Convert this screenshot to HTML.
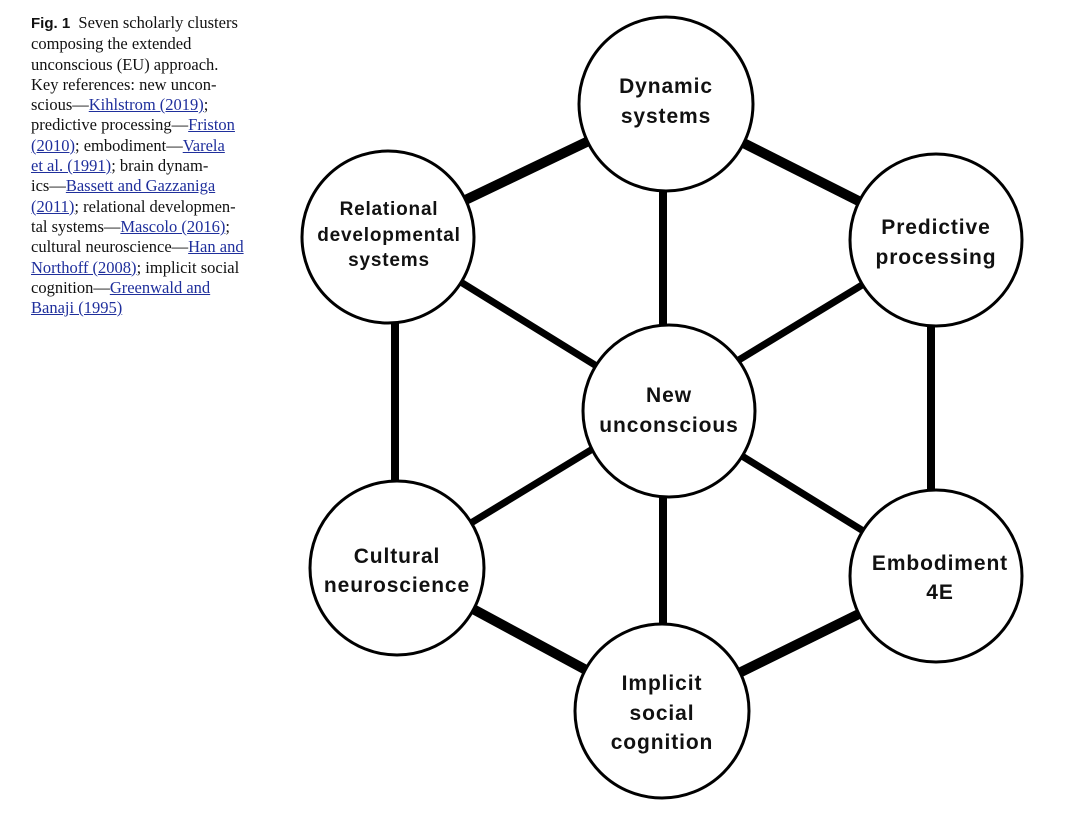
<!DOCTYPE html>
<html><head><meta charset="utf-8"><style>
html,body{margin:0;padding:0;background:#fff;}
body{width:1080px;height:838px;position:relative;overflow:hidden;}
.cap{position:absolute;left:31px;top:13px;width:240px;font-family:"Liberation Serif",serif;font-size:16.5px;line-height:20.3px;color:#111;white-space:nowrap;}
.cap b{font-family:"Liberation Sans",sans-serif;font-weight:bold;font-size:15px;}
.cap a{color:#1f2f9c;text-decoration:underline;}
svg{position:absolute;left:0;top:0;}
text{font-family:"Liberation Sans",sans-serif;font-weight:bold;fill:#111;text-anchor:middle;}
</style></head><body>
<div class="cap"><b>Fig. 1</b>&nbsp;&nbsp;Seven scholarly clusters<br>composing the extended<br>unconscious (EU) approach.<br>Key references: new uncon-<br>scious—<a>Kihlstrom (2019)</a>;<br>predictive processing—<a>Friston</a><br><a>(2010)</a>; embodiment—<a>Varela</a><br><a>et al. (1991)</a>; brain dynam-<br>ics—<a>Bassett and Gazzaniga</a><br><a>(2011)</a>; relational developmen-<br>tal systems—<a>Mascolo (2016)</a>;<br>cultural neuroscience—<a>Han and</a><br><a>Northoff (2008)</a>; implicit social<br>cognition—<a>Greenwald and</a><br><a>Banaji (1995)</a></div>
<svg width="1080" height="838" viewBox="0 0 1080 838">
<g stroke="#000" stroke-linecap="butt">
<line x1="663" y1="104" x2="663" y2="711" stroke-width="8"/>
<line x1="395" y1="237" x2="395" y2="568" stroke-width="8"/>
<line x1="931" y1="240" x2="931" y2="576" stroke-width="8"/>
<line x1="388" y1="237" x2="936" y2="576" stroke-width="7"/>
<line x1="936" y1="240" x2="397" y2="568" stroke-width="7"/>
<line x1="388" y1="237" x2="666" y2="104" stroke-width="10"/>
<line x1="666" y1="104" x2="936" y2="240" stroke-width="10"/>
<line x1="397" y1="568" x2="662" y2="711" stroke-width="10"/>
<line x1="662" y1="711" x2="936" y2="576" stroke-width="10"/>
</g>
<g fill="#fff" stroke="#000" stroke-width="3">
<circle cx="666" cy="104" r="87"/>
<circle cx="388" cy="237" r="86"/>
<circle cx="936" cy="240" r="86"/>
<circle cx="669" cy="411" r="86"/>
<circle cx="397" cy="568" r="87"/>
<circle cx="936" cy="576" r="86"/>
<circle cx="662" cy="711" r="87"/>
</g>
<g font-size="21" letter-spacing="0.9">
<text x="666" y="93">Dynamic</text><text x="666" y="123">systems</text>
<text x="936" y="234">Predictive</text><text x="936" y="264">processing</text>
<text x="669" y="402">New</text><text x="669" y="432">unconscious</text>
<text x="397" y="563">Cultural</text><text x="397" y="592">neuroscience</text>
<text x="940" y="570">Embodiment</text><text x="940" y="599">4E</text>
<text x="662" y="690">Implicit</text><text x="662" y="720">social</text><text x="662" y="749">cognition</text>
</g>
<g font-size="19" letter-spacing="0.8">
<text x="389" y="215">Relational</text><text x="389" y="241">developmental</text><text x="389" y="266">systems</text>
</g>
</svg>
</body></html>
